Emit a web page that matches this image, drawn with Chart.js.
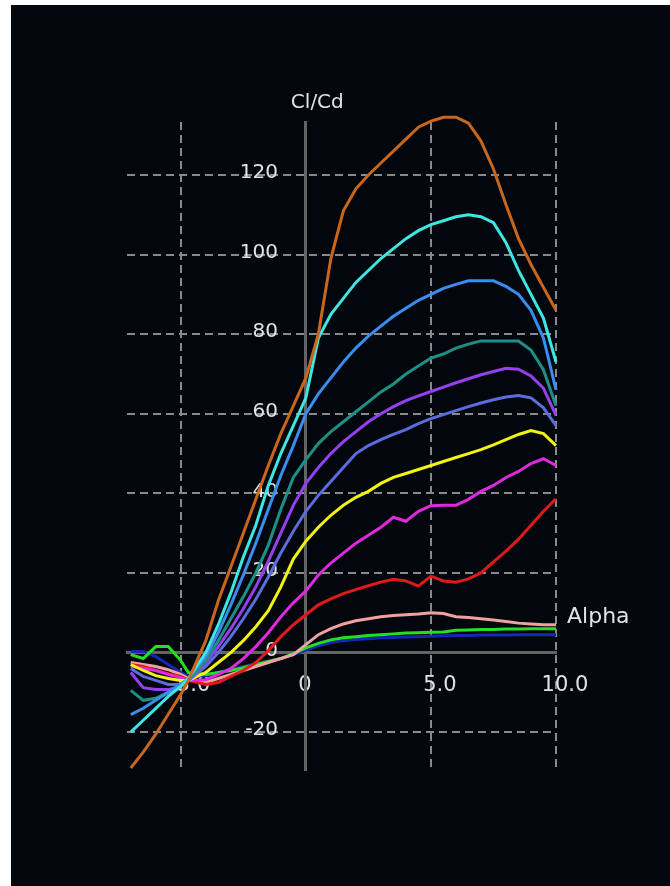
<!DOCTYPE html>
<html>
<head>
<meta charset="utf-8">
<title>Cl/Cd vs Alpha</title>
<script src="https://cdn.jsdelivr.net/npm/chart.js@4.4.1/dist/chart.umd.min.js"></script>
<style>
  html, body { margin: 0; padding: 0; background: #ffffff; }
  #wrap { position: absolute; left: 11px; top: 5px; width: 659px; height: 881px; background: #02070d; }
</style>
</head>
<body>
<div id="wrap"><canvas id="polarChart" width="659" height="881"></canvas></div>
<script>
// angle of attack, shared by every polar
const alpha = [-7, -6.5, -6, -5.5, -5, -4.7, -4, -3.5, -3, -2.5, -2, -1.5, -1, -0.5,
  0, 0.5, 1, 1.5, 2, 2.5, 3, 3.5, 4, 4.5, 5, 5.5, 6, 6.5, 7, 7.5, 8, 8.5, 9, 9.5, 10];

// Cl/Cd per polar
const polarOrange = [-29, -25, -20.5, -15.5, -10.5, -7, 3, 13, 21.5, 30, 38.5, 47, 55, 62,
  69, 80, 99, 111, 116.5, 120, 123, 126, 129, 132, 133.5, 134.5, 134.5, 133, 128.5, 121.5, 112.5, 104, 97.5, 91.7, 86];
const polarCyan = [-20, -17, -14, -11, -8.5, -6.5, 0, 7, 15, 24, 32, 42, 50, 57,
  64, 79, 85, 89, 93, 96, 99, 101.5, 104, 106, 107.5, 108.5, 109.5, 110, 109.5, 108, 103, 96, 90, 84, 73];
const polarBlue = [-15.6, -14, -12, -10, -8, -6.5, -1, 5, 12, 19.5, 27.5, 36, 44.5, 52,
  60, 65, 69, 73, 76.5, 79.5, 82, 84.5, 86.5, 88.5, 90, 91.5, 92.5, 93.4, 93.4, 93.4, 92, 90, 86, 79, 66];
const polarTeal = [-9.5, -12, -11.5, -10, -8.5, -7, -2, 3, 8.5, 14, 20, 27, 36, 44,
  48.5, 52.5, 55.5, 58, 60.5, 63, 65.5, 67.5, 70, 72, 74, 75, 76.5, 77.5, 78.3, 78.3, 78.3, 78.3, 76, 71, 62];
const polarPurple = [-5, -8.8, -9.3, -9.3, -8.5, -7, -2.5, 1.5, 6, 11, 16.5, 23, 30, 37,
  42.5, 46.5, 50, 53, 55.5, 58, 60, 61.8, 63.3, 64.5, 65.6, 66.7, 67.8, 68.8, 69.8, 70.6, 71.4, 71.2, 69.5, 66.4, 59.6];
const polarSlate = [-4, -6, -7, -8, -8, -7, -3.5, 0, 4, 8.5, 13.4, 19, 25, 30.5,
  35.5, 39.5, 43, 46.5, 50, 52, 53.5, 54.8, 56, 57.5, 58.8, 59.8, 60.8, 61.8, 62.7, 63.5, 64.2, 64.6, 64, 61.5, 57];
const polarYellow = [-3, -4.5, -5.8, -6.5, -7, -7, -5, -2.5, 0, 3, 6.5, 10.5, 16.5, 23.5,
  28, 31.5, 34.5, 37, 39, 40.5, 42.5, 44, 45, 46, 47, 48, 49, 50, 51, 52.2, 53.5, 54.8, 55.8, 55, 52];
const polarMagenta = [-3.5, -4, -4.5, -5.5, -6.3, -7, -6.8, -5.5, -4, -1.5, 1.5, 5, 9, 12.5,
  15.5, 19.5, 22.5, 25, 27.5, 29.5, 31.5, 34, 33, 35.5, 36.9, 37, 37, 38.5, 40.5, 42, 44, 45.5, 47.5, 48.7, 47];
const polarRed = [-3, -3.5, -4.5, -5.3, -6, -7, -8, -7.5, -6, -4.5, -2.5, 0.5, 4, 7,
  9.5, 12, 13.5, 14.8, 15.8, 16.8, 17.7, 18.4, 18, 16.7, 19.2, 18, 17.7, 18.5, 20, 22.8, 25.5, 28.5, 32, 35.5, 38.6];
const polarPink = [-2.5, -3, -3.5, -4.3, -5.5, -6.5, -7.5, -6.5, -5.5, -4.5, -3.5, -2.5, -1.5, -0.5,
  2, 4.5, 6, 7.2, 8, 8.5, 9, 9.3, 9.5, 9.7, 10, 9.8, 9, 8.8, 8.5, 8.2, 7.8, 7.4, 7.2, 7, 7];
const polarGreen = [-0.5, -1.5, 1.5, 1.5, -2, -5, -5.5, -5, -4.5, -3.8, -3, -2.2, -1.5, -0.3,
  1.2, 2.3, 3.2, 3.7, 4, 4.3, 4.5, 4.7, 4.9, 5, 5.1, 5.2, 5.6, 5.7, 5.8, 5.8, 5.9, 5.9, 6, 6, 6];
const polarNavy = [0.3, 0.3, -1, -3, -5, -6, -5.8, -5, -4.2, -3.5, -2.8, -2.2, -1.5, -0.5,
  0.6, 1.7, 2.5, 3, 3.3, 3.5, 3.7, 3.8, 3.9, 4, 4.1, 4.2, 4.3, 4.3, 4.4, 4.4, 4.4, 4.5, 4.5, 4.5, 4.5];

// ticks
const alphaTicks = [-5, 0, 5, 10];
const alphaTickLabels = ['-5.0', '0   ', '5.0', '10.0'];
const ratioTicks = [-20, 0, 20, 40, 60, 80, 100, 120];

const textColor = '#e2e2e2';
const gridColor = '#8a8a8a';
const axisColor = '#646464';

const series = [
  [polarOrange, '#c8661e'],
  [polarCyan, '#3ee6e2'],
  [polarBlue, '#3a8cef'],
  [polarTeal, '#1f8f85'],
  [polarPurple, '#9440ee'],
  [polarSlate, '#5b6cdc'],
  [polarYellow, '#f2f214'],
  [polarMagenta, '#dc2adc'],
  [polarRed, '#e01a1a'],
  [polarPink, '#f0a2a0'],
  [polarGreen, '#24e024'],
  [polarNavy, '#1428b4']
];

const datasets = series.map(([values, color]) => ({
  data: alpha.map((a, i) => ({x: a, y: values[i]})),
  borderColor: color,
  backgroundColor: color,
  borderWidth: 3,
  pointRadius: 0,
  tension: 0,
  showLine: true,
  clip: false
}));

// y tick labels sit left of the crossing axis, under the curves
const ratioLabels = {
  id: 'ratioLabels',
  beforeDatasetsDraw(chart) {
    const {ctx, scales} = chart;
    const x0 = scales.x.getPixelForValue(0);
    ctx.save();
    ctx.fillStyle = textColor;
    ctx.font = '20px "DejaVu Sans"';
    ctx.textAlign = 'right';
    ctx.textBaseline = 'middle';
    ratioTicks.forEach(v => {
      ctx.fillText(String(v), x0 - 28, scales.y.getPixelForValue(v) - 2);
    });
    ctx.restore();
  }
};

// axis names drawn next to the crossing axes
const axisNames = {
  id: 'axisNames',
  afterDraw(chart) {
    const {ctx, chartArea, scales} = chart;
    ctx.save();
    ctx.fillStyle = textColor;
    ctx.textAlign = 'left';
    ctx.textBaseline = 'middle';
    ctx.font = '20px "DejaVu Sans"';
    ctx.fillText('Cl/Cd', scales.x.getPixelForValue(0) - 15, chartArea.top - 19);
    ctx.font = '22px "DejaVu Sans"';
    ctx.fillText('Alpha', chartArea.right + 11, scales.y.getPixelForValue(0) - 35);
    ctx.restore();
  }
};

const ctx = document.getElementById('polarChart').getContext('2d');
new Chart(ctx, {
  type: 'scatter',
  data: {datasets: datasets},
  plugins: [ratioLabels, axisNames],
  options: {
    responsive: false,
    animation: false,
    devicePixelRatio: 1,
    layout: {padding: {left: 116, right: 114, top: 117, bottom: 116}},
    plugins: {legend: {display: false}, tooltip: {enabled: false}},
    scales: {
      x: {
        type: 'linear',
        min: -7.15,
        max: 10,
        position: {y: 0},
        afterBuildTicks: (scale) => { scale.ticks = alphaTicks.map(v => ({value: v})); },
        grid: {color: gridColor, lineWidth: 2, drawTicks: false},
        border: {display: true, color: axisColor, width: 3, dash: [8, 5]},
        ticks: {
          color: textColor,
          font: {family: 'DejaVu Sans', size: 21},
          padding: 20,
          labelOffset: 9,
          maxRotation: 0,
          autoSkip: false,
          callback: (value) => alphaTickLabels[alphaTicks.indexOf(value)]
        }
      },
      y: {
        type: 'linear',
        min: -29.5,
        max: 133.3,
        position: {x: 0},
        afterBuildTicks: (scale) => { scale.ticks = ratioTicks.map(v => ({value: v})); },
        grid: {color: gridColor, lineWidth: 2, drawTicks: false},
        border: {display: true, color: axisColor, width: 3, dash: [8, 5]},
        ticks: {display: false}
      }
    }
  }
});
</script>
</body>
</html>
